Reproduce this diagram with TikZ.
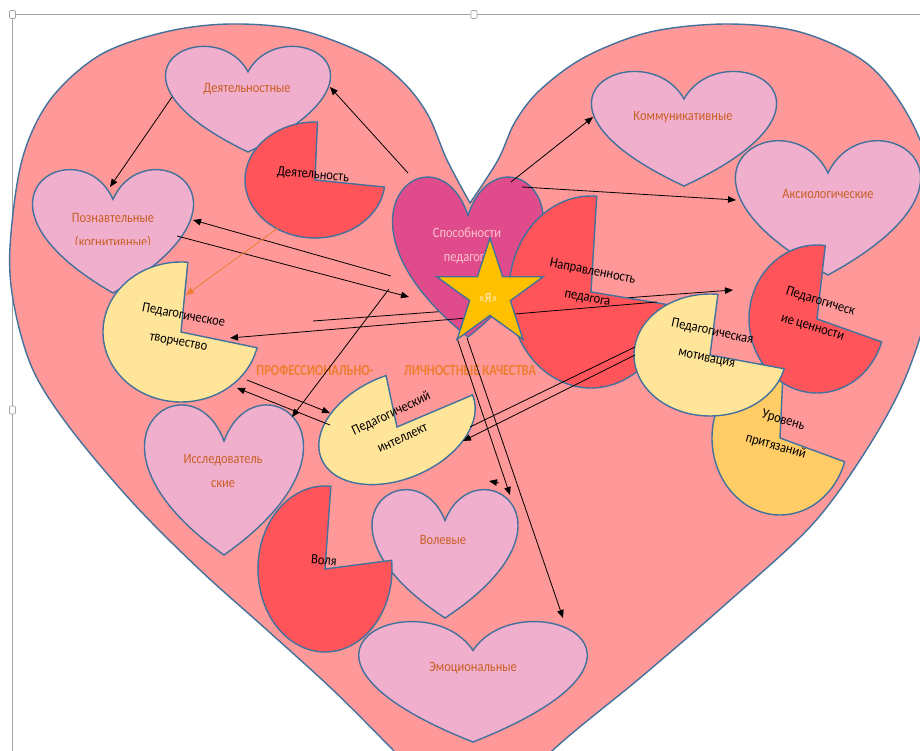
\documentclass[tikz,border=0pt]{standalone}
\usepackage{fontspec}
\setmainfont{Carlito}[FakeStretch=0.87]
\newfontfamily\titlefamily{Carlito}[FakeStretch=0.8]
\usetikzlibrary{arrows.meta}
\definecolor{bigheart}{RGB}{255,152,152}
\definecolor{edgec}{RGB}{65,113,156}
\definecolor{pinkh}{RGB}{241,175,206}
\definecolor{htext}{RGB}{200,94,35}
\definecolor{magh}{RGB}{224,75,140}
\definecolor{magtext}{RGB}{252,196,204}
\definecolor{redp}{RGB}{255,84,90}
\definecolor{yelp}{RGB}{255,229,153}
\definecolor{orap}{RGB}{255,204,102}
\definecolor{starc}{RGB}{255,192,0}
\definecolor{startext}{RGB}{255,236,205}
\definecolor{titlec}{RGB}{237,125,49}
\definecolor{framec}{RGB}{165,165,165}
\newcommand\hfont{\fontsize{14.3}{24}\selectfont}
\newcommand\pfont{\fontsize{14.3}{27}\selectfont}
\newcommand\tfont{\titlefamily\fontsize{15.5}{18}\selectfont\bfseries}
\tikzset{
  shapeedge/.style={draw=edgec,line width=1.4pt},
  hshape/.style={shapeedge,fill=pinkh},
  htxt/.style={text=htext,font=\hfont,align=center,inner sep=0pt},
  ptxt/.style={text=black,font=\pfont,align=center,inner sep=0pt},
  conn/.style={draw=black,line width=0.8pt,-{Triangle[length=8pt,width=6.5pt]}},
  orconn/.style={draw=titlec,line width=0.8pt,-{Triangle[length=8pt,width=6.5pt]}},
  plainline/.style={draw=black,line width=0.8pt},
  handle/.style={draw=framec,fill=white,line width=0.7pt,rounded corners=1pt},
  ttl/.style={text=titlec,font=\tfont,inner sep=0pt}
}
% heart: #1 style, #2 cx, #3 top, #4 half width, #5 height
\newcommand\hrt[5]{%
  \filldraw[#1] (#2,{#3+0.25*#5})
    .. controls ({#2+0.417*#4},{#3-0.333*#5}) and ({#2+2.04*#4},{#3+0.25*#5}) .. (#2,{#3+#5})
    .. controls ({#2-2.04*#4},{#3+0.25*#5}) and ({#2-0.417*#4},{#3-0.333*#5}) .. (#2,{#3+0.25*#5}) -- cycle;}
% pie: #1 fill, #2 cx, #3 cy, #4 rx, #5 ry, #6 start, #7 end, #8 rotation, #9 name
\newcommand\pacm[9]{%
  \begin{scope}[shift={(#2,#3)},rotate=#8]
    \filldraw[shapeedge,fill=#1] (0,0) coordinate (#9) -- plot[domain=#6:#7,samples=90,variable=\t] ({#4*cos(\t)},{#5*sin(\t)}) -- cycle;
  \end{scope}}
\begin{document}
\begin{tikzpicture}[x=1pt,y=-1pt]
\useasboundingbox (0,0) rectangle (920,751);
\fill[white] (0,0) rectangle (920,751);
\begin{scope}
\clip (0,0) rectangle (920,751);
% frame of the drawing canvas
\coordinate (fb) at (12,751);
\coordinate (fc) at (12,14);
\coordinate (fr) at (920,14);
\draw[framec,line width=0.8pt] (fb) -- (fc) -- (fr);
% big heart
\filldraw[fill=bigheart,draw=edgec,line width=1.4pt]
  plot[smooth,tension=0.55] coordinates {(470,203) (447,160) (428,115) (403,82) (367,55) (300,30) (230,24) (165,32) (100,55) (50,100) (22,160) (10,247) (14,305) (33,370) (70,428) (133,503) (200,570) (267,630) (333,690) (393,750) (472,832)}
  -- plot[smooth,tension=0.55] coordinates {(472,832) (553,750) (640,678) (727,603) (810,527) (860,460) (900,390) (925,320) (937,247) (930,170) (905,110) (865,62) (800,32) (727,24) (650,32) (585,57) (540,90) (515,122) (498,160) (470,203)} -- cycle;
% connector points
\coordinate (p1s) at (408,173); \coordinate (p1e) at (330,87);
\coordinate (p2s) at (172,97); \coordinate (p2e) at (110,187);
\coordinate (p3s) at (391,276); \coordinate (p3e) at (193,220);
\coordinate (p4s) at (177,236); \coordinate (p4e) at (409,297);
\coordinate (p5s) at (278,228); \coordinate (p5e) at (186,295);
\coordinate (p6s) at (313,321); \coordinate (p6e) at (733,290);
\coordinate (p7s) at (657,302); \coordinate (p7e) at (230,338);
\coordinate (p8s) at (389,289); \coordinate (p8e) at (292,417);
\coordinate (p9s) at (247,380); \coordinate (p9e) at (330,413);
\coordinate (p10s) at (330,425); \coordinate (p10e) at (237,388);
\coordinate (p11s) at (635,347); \coordinate (p11e) at (470,427);
\coordinate (p12s) at (635,355); \coordinate (p12e) at (463,441);
\coordinate (p13s) at (457,338); \coordinate (p13e) at (510,495);
\coordinate (p14s) at (467,338); \coordinate (p14e) at (563,618);
\coordinate (p15s) at (511,182); \coordinate (p15e) at (593,117);
\coordinate (p16s) at (522,187); \coordinate (p16e) at (736,200);
\coordinate (p17s) at (499,483); \coordinate (p17e) at (489,481);
% connector lying under the shapes
\draw[conn] (p6s) -- (p6e);
% small hearts
\hrt{hshape}{248}{45}{82}{107}
\node[htxt] (hDeyat) at (247,89) {Деятельностные};
\hrt{hshape}{113}{168}{80}{125}
\begin{scope}
\clip (40,200) rectangle (190,244.5);
\node[htxt] (hPozn) at (113,230.5) {Познавтельные\\(когнитивные)};
\end{scope}
\hrt{hshape}{684}{70}{92}{116}
\node[htxt] (hKomm) at (683,117) {Коммуникативные};
\hrt{hshape}{828}{139}{92}{136}
\node[htxt] (hAks) at (828,194) {Аксиологические};
\hrt{hshape}{224}{403}{79}{152}
\node[htxt] (hIssl) at (223,471) {Исследователь\\ские};
\hrt{hshape}{445}{488}{72.5}{130}
\node[htxt] (hVol) at (443,540) {Волевые};
% pies
\pacm{redp}{315}{180}{70}{58}{7}{272}{0}{cDeyat}
\node[ptxt,rotate=-5] (tDeyat) at (313,175) {Деятельность};
\pacm{yelp}{181}{332}{78}{70}{13}{275}{0}{cTvor}
\node[ptxt,rotate=-11] (tTvor) at (181,329) {Педагогическое\\творчество};
\pacm{redp}{325}{569}{67}{83}{-6}{275}{0}{cVolya}
\node[ptxt,rotate=-5] (tVolya) at (324,560) {Воля};
\hrt{hshape}{473}{620}{113.5}{122}
\node[htxt] (hEmo) at (473,668) {Эмоциональные};
\pacm{yelp}{397}{427}{82}{52}{0}{277}{23}{cInt}
\node[ptxt,rotate=25] (tInt) at (396.5,425) {Педагогический\\интеллект};
% central heart
\hrt{shapeedge,fill=magh}{468}{175}{75}{162}
\node[text=magtext,font=\hfont,align=center,inner sep=0pt] (hSpos) at (467,245.5) {Способности\\педагога};
\pacm{redp}{591}{292}{82}{96}{8}{274}{0}{cNapr}
\node[ptxt,rotate=-11] (tNapr) at (590,285) {Направленность\\педагога};
\pacm{orap}{780}{438}{68}{77}{18}{273}{0}{cUrov}
\node[ptxt,rotate=-16] (tUrov) at (779.5,433.5) {Уровень\\притязаний};
\pacm{redp}{817}{319}{68}{74}{18}{277}{0}{cCenn}
\node[ptxt,rotate=-17] (tCenn) at (816.5,314.5) {Педагогическ\\ие ценности};
\pacm{yelp}{710}{355}{76}{61}{13}{276}{0}{cMot}
\node[ptxt,rotate=-12] (tMot) at (709.5,345) {Педагогическая\\мотивация};
% title
\node[ttl] (title1) at (315,370) {ПРОФЕССИОНАЛЬНО-};
\node[ttl] (title2) at (470,370) {ЛИЧНОСТНЫЕ КАЧЕСТВА};
% connectors
\draw[conn] (p1s) -- (p1e);
\draw[conn] (p2s) -- (p2e);
\draw[conn] (p3s) -- (p3e);
\draw[conn] (p4s) -- (p4e);
\draw[orconn] (p5s) -- (p5e);
\draw[conn] (p7s) -- (p7e);
\draw[conn] (p8s) -- (p8e);
\draw[conn] (p9s) -- (p9e);
\draw[conn] (p10s) -- (p10e);
\draw[plainline] (p11s) -- (p11e);
\draw[conn] (p12s) -- (p12e);
\draw[conn] (p13s) -- (p13e);
\draw[conn] (p14s) -- (p14e);
\draw[conn] (p15s) -- (p15e);
\draw[conn] (p16s) -- (p16e);
\draw[conn] (p17s) -- (p17e);
% star
\filldraw[shapeedge,fill=starc] (490,238) -- (502.6,276.7) -- (543.3,276.7) -- (510.4,300.6) -- (522.9,339.3) -- (490,315.4) -- (457.1,339.3) -- (469.6,300.6) -- (436.7,276.7) -- (477.4,276.7) -- cycle;
\node[text=startext,font=\fontsize{14}{16}\selectfont,inner sep=0pt] (ya) at (488,298) {«Я»};
\end{scope}
% selection handles
\draw[handle] (9.5,10.5) rectangle (15.5,18.5);
\draw[handle] (471,10.5) rectangle (477,18.5);
\draw[handle] (9.5,406) rectangle (15.5,414);
\end{tikzpicture}
\end{document}
